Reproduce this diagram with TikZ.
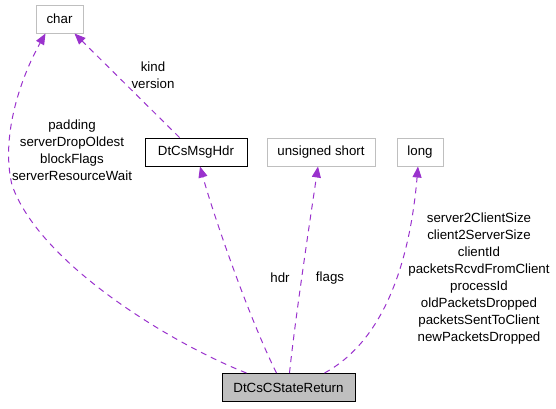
\documentclass[tikz,border=0pt]{standalone}
\usepackage{fontspec}
\setmainfont{Liberation Sans}
\usetikzlibrary{arrows.meta,positioning}
\definecolor{edgepurple}{HTML}{9A32CD}
\definecolor{boxgray}{HTML}{BFBFBF}

\begin{document}
\begin{tikzpicture}[x=1pt,y=-1pt]
	\tikzstyle{every node}=[font=\fontsize{13.3}{17}\selectfont]
	\tikzstyle{cls}=[draw=black, line width=1pt, minimum height=28pt, inner sep=0pt]
	\tikzstyle{ext}=[draw=boxgray, line width=1pt, minimum height=28pt, inner sep=0pt]
	\tikzstyle{usage}=[draw=edgepurple, line width=1pt, dash pattern=on 6pt off 5pt, -{Triangle[length=11pt,width=9pt,fill=edgepurple]}]
	\tikzstyle{lbl}=[align=center, inner sep=0pt]
	\useasboundingbox (0,0) rectangle (556,408);
	% classes
	\node [ext, minimum width=47pt] (char) at (59.5,19) {char};
	\node [cls, minimum width=102pt] (msghdr) at (196,152) {DtCsMsgHdr};
	\node [ext, minimum width=108pt] (ushort) at (321,152) {unsigned short};
	\node [ext, minimum width=46pt] (long) at (420,152) {long};
	\node [cls, fill=boxgray, minimum width=133pt] (ret) at (288.5,387.5) {DtCsCStateReturn};
	% member edges
	\draw [usage] ([xshift=25pt]ret.north west) .. controls (175,345) and (40,265) .. (12,185)
		.. controls (0,135) and (22,75) .. ([xshift=-14pt]char.south);
	\draw [usage] ([xshift=35pt]msghdr.north west) -- ([xshift=15pt]char.south);
	\draw [usage] ([xshift=55pt]ret.north west) .. controls (250,320) and (215,220) .. ([xshift=4pt]msghdr.south);
	\draw [usage] ([xshift=68pt]ret.north west) .. controls (295,320) and (310,220) .. ([xshift=-3pt]ushort.south);
	\draw [usage] ([xshift=103pt]ret.north west) .. controls (385,340) and (410,260) .. ([xshift=-2pt]long.south);
	% labels
	\node [lbl] (lblchar) at (72,150) {padding\\serverDropOldest\\blockFlags\\serverResourceWait};
	\node [lbl] (lblhdrchar) at (153,75) {kind\\version};
	\node [lbl] (lblhdr) at (280,278) {hdr};
	\node [lbl] (lblflags) at (330,278) {flags};
	\node [lbl] (lbllong) at (479,279) {server2ClientSize\\client2ServerSize\\clientId\\packetsRcvdFromClient\\processId\\oldPacketsDropped\\packetsSentToClient\\newPacketsDropped};
\end{tikzpicture}
\end{document}
